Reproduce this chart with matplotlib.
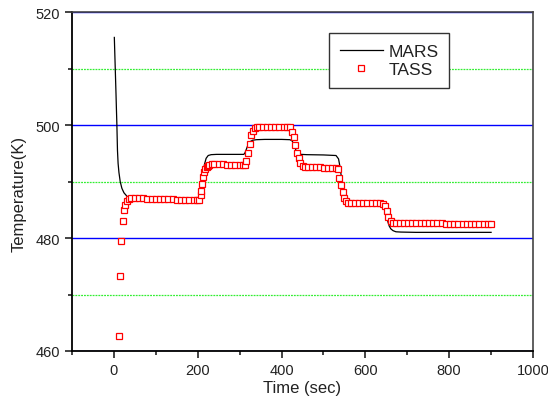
import matplotlib
matplotlib.use("Agg")
import matplotlib.pyplot as plt
from matplotlib.ticker import MultipleLocator

plt.rcParams["font.family"] = ["Liberation Sans", "DejaVu Sans"]

# MARS calculation (line)
mars_t = [1, 2, 3, 4, 5, 6, 7, 8.5, 10, 12, 15, 19, 24, 31, 38, 50, 100, 150, 200,
          204, 207, 210, 213, 216, 220, 225, 232, 245, 280, 310,
          313, 316, 319, 322, 326, 331, 340, 360, 400, 420,
          425, 428, 431, 434, 437, 441, 447, 460, 500, 530,
          533, 536, 539, 542, 545, 548, 552, 557, 565, 580, 620, 642,
          645, 648, 651, 654, 657, 661, 666, 673, 685, 720, 800, 900]
mars_T = [515.5, 513.0, 510.5, 508.0, 505.5, 502.8, 500.3, 495.5, 493.2, 491.6, 490.0,
          488.8, 488.0, 487.4, 487.1, 487.0, 486.9, 486.8, 486.7,
          487.0, 487.8, 489.3, 491.3, 493.0, 494.1, 494.6, 494.75, 494.8, 494.8, 494.8,
          495.1, 495.7, 496.3, 496.8, 497.1, 497.3, 497.4, 497.45, 497.45, 497.4,
          497.2, 496.8, 496.2, 495.6, 495.2, 494.9, 494.8, 494.75, 494.7, 494.6,
          494.3, 494.0, 492.8, 491.2, 489.6, 488.2, 487.2, 486.7, 486.45, 486.35, 486.3, 486.25,
          485.9, 485.0, 483.8, 482.8, 482.1, 481.6, 481.3, 481.1, 481.05, 481.0, 481.0, 481.0]

# TASS calculation (open squares)
tass_t = [12, 15.5, 18, 21, 24, 27, 31, 35, 40,
          50, 60, 70, 80, 90, 100, 110, 120, 130, 140, 150, 160, 170, 180, 190, 198,
          204, 207, 209, 211, 213.5, 216, 218.5, 221, 224, 228, 233,
          240, 250, 260, 270, 280, 290, 300, 308, 312,
          316, 320, 324, 328, 332, 336, 341, 347,
          355, 365, 375, 385, 395, 405, 413, 420,
          425, 429, 433, 437, 441, 445, 450, 456, 463,
          472, 482, 492, 502, 512, 521, 529,
          534, 538, 542, 546, 550, 554, 559, 566,
          575, 585, 595, 605, 615, 625, 634, 642,
          647, 651, 655, 660, 666, 673,
          682, 692, 702, 712, 722, 732, 742, 752, 762, 772, 782,
          792, 802, 812, 822, 832, 842, 852, 862, 872, 882, 892, 900]
tass_T = [462.7, 473.3, 479.5, 483.0, 484.9, 485.9, 486.6, 486.9, 487.0,
          487.0, 487.0, 487.0, 486.95, 486.95, 486.9, 486.9, 486.9, 486.85, 486.85,
          486.8, 486.8, 486.8, 486.75, 486.75, 486.7,
          486.8, 487.6, 488.4, 489.6, 490.8, 491.6, 492.2, 492.6, 492.8, 493.0, 493.1,
          493.1, 493.1, 493.05, 493.0, 493.0, 492.95, 492.9, 492.85, 492.9,
          493.7, 495.0, 496.7, 498.2, 499.0, 499.4, 499.6, 499.7,
          499.7, 499.7, 499.7, 499.7, 499.7, 499.7, 499.7, 499.6,
          498.7, 497.8, 496.5, 495.0, 494.1, 493.3, 492.8, 492.6, 492.55,
          492.5, 492.5, 492.5, 492.45, 492.45, 492.4, 492.4,
          492.2, 490.7, 489.4, 488.1, 487.1, 486.5, 486.25, 486.15,
          486.15, 486.15, 486.15, 486.15, 486.15, 486.15, 486.15, 486.1,
          485.6, 484.8, 483.8, 483.0, 482.7, 482.6,
          482.6, 482.6, 482.6, 482.6, 482.6, 482.6, 482.6, 482.6, 482.6, 482.6, 482.6,
          482.55, 482.55, 482.55, 482.55, 482.55, 482.55, 482.55, 482.55, 482.55, 482.55,
          482.55, 482.55]

fig = plt.figure(figsize=(5.48, 4.14), dpi=100)
ax = fig.add_axes([72 / 548, 1 - 352 / 414, 461 / 548, 339 / 414])

ax.plot(mars_t, mars_T, color="black", lw=0.9, label="MARS", zorder=3)
ax.plot(tass_t, tass_T, ls="none", marker="s", ms=3.7, mew=0.9,
        mfc="white", mec="#ff0000", label="TASS", zorder=4)

ax.set_xlim(-100, 1000)
ax.set_ylim(460, 520)
ax.xaxis.set_major_locator(MultipleLocator(200))
ax.xaxis.set_minor_locator(MultipleLocator(100))
ax.yaxis.set_major_locator(MultipleLocator(20))
ax.yaxis.set_minor_locator(MultipleLocator(10))

ax.set_axisbelow(True)
ax.grid(True, axis="y", which="major", color="#0000ff", lw=1.0, ls="-")
ax.grid(True, axis="y", which="minor", color="#33ee33", lw=0.9, ls=(0, (1.5, 0.8)))

ax.tick_params(which="both", direction="out", top=False, right=False,
               width=1.2, labelsize=10.5, colors="#222222")
ax.tick_params(which="major", length=5, pad=3.5)
ax.tick_params(which="minor", length=3)
for s in ["left", "bottom"]:
    ax.spines[s].set_linewidth(1.3)
    ax.spines[s].set_color("black")
for s in ["top", "right"]:
    ax.spines[s].set_linewidth(1.2)
    ax.spines[s].set_color("#444444")

ax.set_xlabel("Time (sec)", fontsize=12, labelpad=2, color="#222222")
ax.set_ylabel("Temperature(K)", fontsize=12, color="#222222")
ax.yaxis.set_label_coords(-0.098, 0.465)

leg = ax.legend(loc="upper left", bbox_to_anchor=(0.558, 0.938), fontsize=12.5,
                fancybox=False, framealpha=1, edgecolor="#333333", numpoints=1,
                handlelength=2.5, handletextpad=0.3, borderpad=0.6,
                labelspacing=0.2, borderaxespad=0)
leg.get_frame().set_linewidth(1.0)
for t in leg.get_texts():
    t.set_color("#222222")

fig.savefig("out.png", dpi=100)
